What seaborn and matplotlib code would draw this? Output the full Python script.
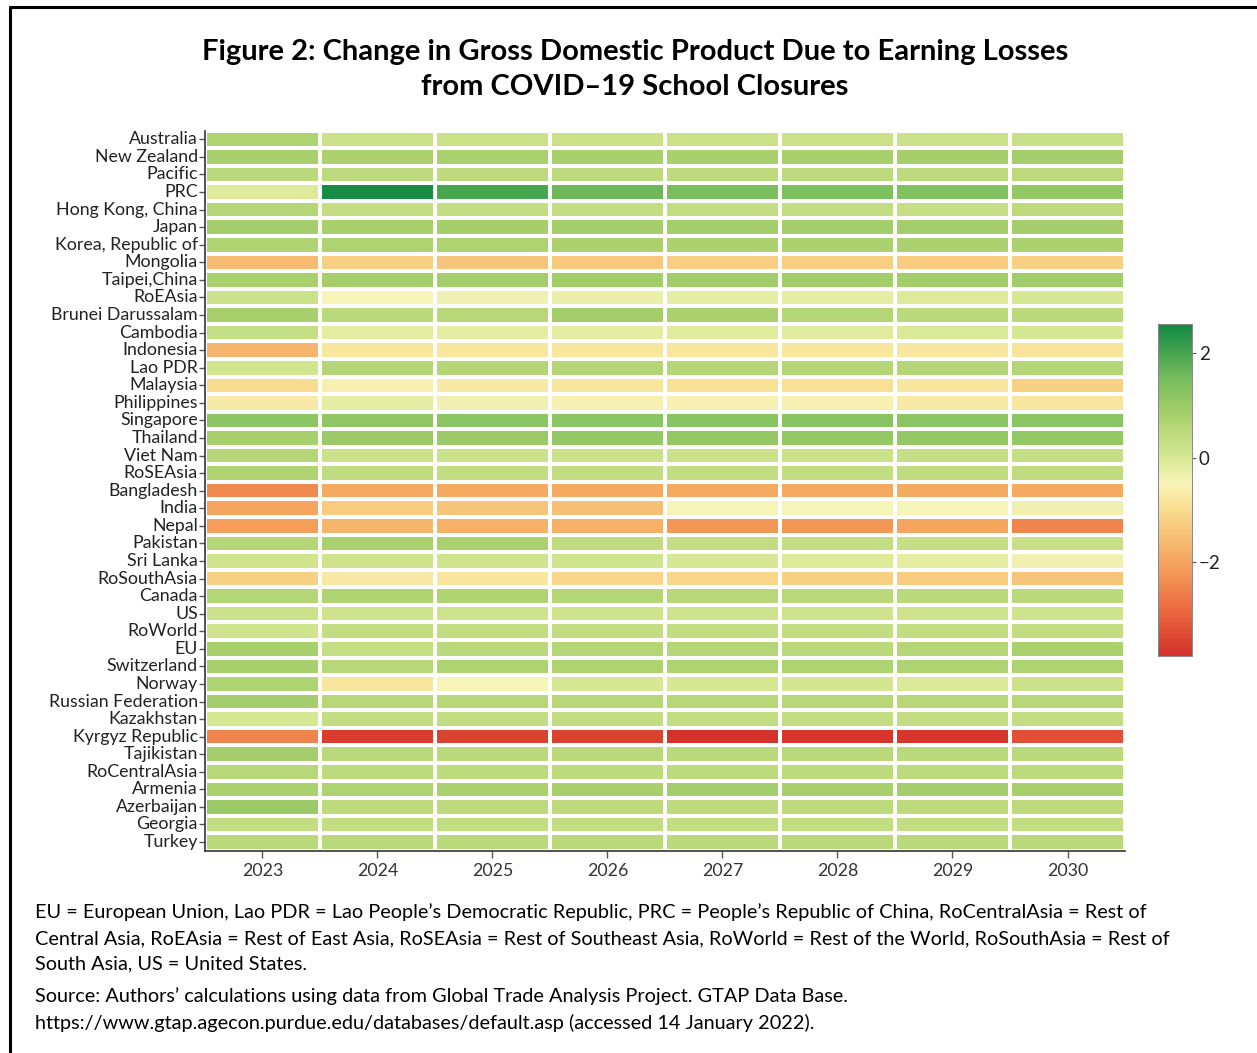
import numpy as np
import pandas as pd
import matplotlib
matplotlib.use("Agg")
import matplotlib.pyplot as plt
from matplotlib.colors import LinearSegmentedColormap
import seaborn as sb

# DATA

years = ["2023", "2024", "2025", "2026", "2027", "2028", "2029", "2030"]

countries = ["Australia", "New Zealand", "Pacific", "PRC", "Hong Kong, China", "Japan",
             "Korea, Republic of", "Mongolia", "Taipei,China", "RoEAsia", "Brunei Darussalam",
             "Cambodia", "Indonesia", "Lao PDR", "Malaysia", "Philippines", "Singapore",
             "Thailand", "Viet Nam", "RoSEAsia", "Bangladesh", "India", "Nepal", "Pakistan",
             "Sri Lanka", "RoSouthAsia", "Canada", "US", "RoWorld", "EU", "Switzerland",
             "Norway", "Russian Federation", "Kazakhstan", "Kyrgyz Republic", "Tajikistan",
             "RoCentralAsia", "Armenia", "Azerbaijan", "Georgia", "Turkey"]

gdp_change = [
    [0.70, 0.20, 0.22, 0.22, 0.22, 0.22, 0.20, 0.25],    # Australia
    [0.80, 0.75, 0.78, 0.80, 0.80, 0.80, 0.82, 0.85],    # New Zealand
    [0.50, 0.45, 0.45, 0.45, 0.45, 0.45, 0.45, 0.45],    # Pacific
    [-0.10, 2.50, 2.00, 1.60, 1.45, 1.40, 1.35, 1.10],   # PRC
    [0.60, 0.35, 0.35, 0.35, 0.35, 0.35, 0.30, 0.45],    # Hong Kong, China
    [0.85, 0.80, 0.82, 0.85, 0.85, 0.85, 0.85, 0.85],    # Japan
    [0.65, 0.70, 0.70, 0.72, 0.72, 0.72, 0.72, 0.72],    # Korea
    [-1.60, -1.20, -1.40, -1.35, -1.25, -1.25, -1.30, -1.20],  # Mongolia
    [0.80, 0.85, 0.85, 0.88, 0.90, 0.90, 0.90, 0.90],    # Taipei,China
    [0.20, -0.50, -0.40, -0.30, -0.20, -0.20, -0.10, 0.00],    # RoEAsia
    [0.80, 0.50, 0.55, 0.85, 0.75, 0.60, 0.50, 0.50],    # Brunei
    [0.30, -0.20, -0.20, -0.20, -0.15, -0.15, -0.05, 0.00],    # Cambodia
    [-1.70, -0.80, -0.80, -0.80, -0.80, -0.80, -0.80, -0.85],  # Indonesia
    [0.10, 0.60, 0.60, 0.60, 0.60, 0.60, 0.60, 0.60],    # Lao PDR
    [-1.00, -0.60, -0.70, -0.80, -0.90, -0.90, -0.80, -1.20],  # Malaysia
    [-0.70, -0.20, -0.40, -0.60, -0.60, -0.60, -0.70, -0.80],  # Philippines
    [1.20, 1.15, 1.20, 1.20, 1.25, 1.25, 1.20, 1.20],    # Singapore
    [0.80, 1.00, 1.00, 1.10, 1.10, 1.10, 1.10, 1.10],    # Thailand
    [0.60, 0.20, 0.20, 0.20, 0.20, 0.20, 0.30, 0.30],    # Viet Nam
    [0.65, 0.40, 0.35, 0.35, 0.35, 0.35, 0.40, 0.40],    # RoSEAsia
    [-2.40, -1.90, -1.90, -1.90, -1.90, -1.90, -1.90, -1.90],  # Bangladesh
    [-2.00, -1.30, -1.40, -1.50, -0.50, -0.50, -0.50, -0.40],  # India
    [-2.10, -1.70, -1.80, -1.80, -2.20, -2.20, -2.00, -2.50],  # Nepal
    [0.60, 0.75, 0.75, 0.40, 0.35, 0.35, 0.30, 0.25],    # Pakistan
    [0.10, 0.15, 0.10, 0.10, 0.00, -0.10, -0.20, -0.40],  # Sri Lanka
    [-1.20, -0.70, -0.80, -1.10, -1.10, -1.20, -1.30, -1.40],  # RoSouthAsia
    [0.60, 0.70, 0.70, 0.60, 0.55, 0.50, 0.50, 0.50],    # Canada
    [0.20, 0.15, 0.15, 0.15, 0.15, 0.15, 0.15, 0.15],    # US
    [0.10, 0.35, 0.35, 0.35, 0.35, 0.35, 0.35, 0.35],    # RoWorld
    [0.80, 0.30, 0.50, 0.60, 0.60, 0.50, 0.60, 0.75],    # EU
    [0.80, 0.55, 0.70, 0.70, 0.70, 0.70, 0.70, 0.70],    # Switzerland
    [0.70, -0.80, -0.50, 0.00, 0.00, 0.05, -0.05, 0.20],  # Norway
    [0.85, 0.55, 0.55, 0.55, 0.55, 0.55, 0.55, 0.55],    # Russian Federation
    [0.00, 0.35, 0.35, 0.35, 0.35, 0.35, 0.35, 0.35],    # Kazakhstan
    [-2.50, -3.60, -3.50, -3.50, -3.75, -3.70, -3.70, -3.30],  # Kyrgyz Republic
    [0.85, 0.50, 0.50, 0.50, 0.50, 0.50, 0.50, 0.50],    # Tajikistan
    [0.55, 0.45, 0.45, 0.45, 0.45, 0.45, 0.45, 0.45],    # RoCentralAsia
    [0.75, 0.70, 0.75, 0.80, 0.85, 0.80, 0.85, 0.80],    # Armenia
    [1.00, 0.45, 0.45, 0.45, 0.45, 0.45, 0.45, 0.45],    # Azerbaijan
    [0.35, 0.35, 0.35, 0.35, 0.35, 0.35, 0.35, 0.35],    # Georgia
    [0.50, 0.50, 0.50, 0.50, 0.50, 0.50, 0.50, 0.50],    # Turkey
]

cbar_ticks = [-2, 0, 2]
vmin, vmax = -3.8, 2.55

title = "Figure 2: Change in Gross Domestic Product Due to Earning Losses\nfrom COVID\u201319 School Closures"
note = ("EU = European Union, Lao PDR = Lao People\u2019s Democratic Republic, PRC = People\u2019s Republic of China, RoCentralAsia = Rest of\n"
        "Central Asia, RoEAsia = Rest of East Asia, RoSEAsia = Rest of Southeast Asia, RoWorld = Rest of the World, RoSouthAsia = Rest of\n"
        "South Asia, US = United States.")
source = ("Source: Authors\u2019 calculations using data from Global Trade Analysis Project. GTAP Data Base.\n"
          "https://www.gtap.agecon.purdue.edu/databases/default.asp (accessed 14 January 2022).")

df = pd.DataFrame(gdp_change, index=countries, columns=years)

# red - yellow - green scale, pale yellow slightly below zero
nodes = [(-3.8, "#d3302a"), (-2.9, "#ec6a40"), (-2.0, "#f5a55e"), (-1.0, "#f9dc8e"),
         (-0.5, "#f7f4b8"), (0.0, "#d8e894"), (0.8, "#a8d06c"), (1.5, "#78bd5c"),
         (2.55, "#138a43")]
cmap = LinearSegmentedColormap.from_list(
    "gdp", [((v - vmin) / (vmax - vmin), c) for v, c in nodes])

# PLOT

sb.set_style("white")
plt.rcParams['font.family'] = ['Lato', 'DejaVu Sans']

fig = plt.figure(figsize=(12.57, 10.53), dpi=100)
ax = fig.add_axes([0.163, 0.192, 0.732, 0.684])
cax = fig.add_axes([0.9213, 0.377, 0.027, 0.315])

sb.heatmap(df, ax=ax, cbar_ax=cax, cmap=cmap, vmin=vmin, vmax=vmax,
           linewidths=1.6, linecolor="white", cbar_kws={"ticks": cbar_ticks})

ax.set_xlabel("")
ax.set_ylabel("")
ax.set_yticklabels(countries, rotation=0, fontsize=12.8, color="#222222")
ax.set_xticklabels(years, rotation=0, fontsize=12.8, color="#333333")
ax.tick_params(axis="y", length=4, width=1, color="#555555", pad=1, left=True)
ax.tick_params(axis="x", length=5, width=1, color="#555555", pad=4, bottom=True)
for side in ["left", "bottom"]:
    ax.spines[side].set_visible(True)
    ax.spines[side].set_color("#333333")
    ax.spines[side].set_linewidth(1.2)

cax.tick_params(labelsize=13.5, length=3, color="#555555", pad=2, labelcolor="#222222")
for sp in cax.spines.values():
    sp.set_visible(True)
    sp.set_color("#888888")
    sp.set_linewidth(0.6)

fig.text(0.505, 0.963, title, ha="center", va="top", fontsize=21,
         fontweight="bold", linespacing=1.42, color="black")
fig.text(0.028, 0.142, note, ha="left", va="top", fontsize=14.3,
         linespacing=1.62, color="black")
fig.text(0.028, 0.063, source, ha="left", va="top", fontsize=14.3,
         linespacing=1.62, color="black")

# outer frame (top and left edges visible)
fig.add_artist(plt.Line2D([0.008, 1.0], [0.9935, 0.9935], color="black", lw=2.2))
fig.add_artist(plt.Line2D([0.008, 0.008], [0.0, 0.9935], color="black", lw=2.2))

plt.savefig("out.png", dpi=100)
